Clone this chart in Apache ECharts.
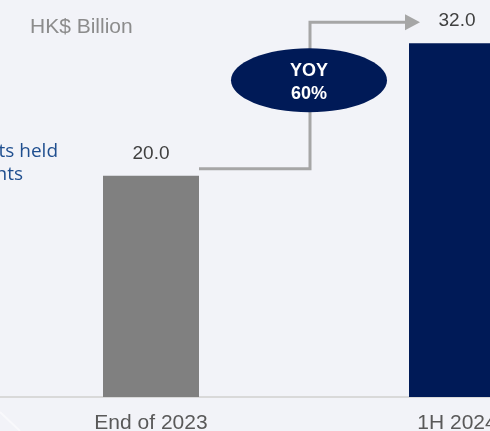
<!DOCTYPE html>
<html>
<head>
<meta charset="utf-8">
<script src="https://cdn.jsdelivr.net/npm/echarts@6/dist/echarts.min.js"></script>
<style>
  html, body { margin: 0; padding: 0; background: #f2f3f8; }
  #chart { width: 490px; height: 431px; }
</style>
</head>
<body>
<div id="chart"></div>
<script>
// Period categories and amounts (HK$ billion)
const categories = ['End of 2023', '1H 2024'];
const values = [20.0, 32.0];
// Growth callout and captions
const growthLines = ['YOY', '60%'];
const unitCaption = 'HK$ Billion';
const seriesCaption = ['Assets held', 'for clients'];

const barColors = ['#808080', '#001a57'];
const NAVY = '#001a57';
const BAR_W = 96;

const chart = echarts.init(document.getElementById('chart'));

chart.setOption({
  backgroundColor: '#f2f3f8',
  animation: false,
  // plot area runs past the right edge so the second period is partly cut off
  grid: { left: -2, right: -120, top: 10, bottom: 34, outerBoundsMode: 'none', containLabel: false },
  xAxis: {
    type: 'category',
    data: categories,
    axisLine: { show: true, lineStyle: { color: '#d9d9d9', width: 2 } },
    axisTick: { show: false },
    axisLabel: {
      margin: 16,
      color: '#595959',
      fontSize: 21,
      fontFamily: 'Liberation Sans, Arial, sans-serif'
    }
  },
  yAxis: { type: 'value', min: 0, max: 35, show: false, splitLine: { show: false } },
  series: [{
    type: 'bar',
    data: values,
    barWidth: BAR_W,
    itemStyle: { color: p => barColors[p.dataIndex] },
    label: {
      show: true,
      position: 'top',
      distance: 13,
      color: '#404040',
      fontSize: 19,
      fontFamily: 'Liberation Sans, Arial, sans-serif',
      formatter: p => p.value.toFixed(1)
    }
  }]
});

// Callout geometry derived from the bars' positions
const p0 = chart.convertToPixel({ xAxisIndex: 0, yAxisIndex: 0 }, [0, values[0]]);
const p1 = chart.convertToPixel({ xAxisIndex: 0, yAxisIndex: 0 }, [1, values[1]]);
const half = BAR_W / 2;
const yLow = p0[1] - 7;
const yHigh = p1[1] - 21;
const xStart = p0[0] + half;
const xMid = (p0[0] + p1[0]) / 2 + 6;
const xTip = p1[0] - half + 11;
const xHead = xTip - 15;

chart.setOption({
  graphic: [
    {
      type: 'text', x: 30, y: 27,
      style: {
        text: unitCaption, fill: '#8c8c8c',
        font: '21px "Liberation Sans", Arial, sans-serif',
        textAlign: 'left', textVerticalAlign: 'middle'
      }
    },
    {
      type: 'text', x: 58, y: 152,
      style: {
        text: seriesCaption[0], fill: '#1f4e8f',
        font: '19px "Open Sans", "Noto Sans", sans-serif',
        textAlign: 'right', textVerticalAlign: 'middle'
      }
    },
    {
      type: 'text', x: 23, y: 175,
      style: {
        text: seriesCaption[1], fill: '#1f4e8f',
        font: '19px "Open Sans", "Noto Sans", sans-serif',
        textAlign: 'right', textVerticalAlign: 'middle'
      }
    },
    {
      type: 'polyline',
      shape: { points: [[xStart, yLow], [xMid, yLow], [xMid, yHigh], [xHead, yHigh]] },
      style: { stroke: '#a6a6a6', lineWidth: 3, fill: null }
    },
    {
      type: 'polygon',
      shape: { points: [[xHead, yHigh - 8], [xTip, yHigh], [xHead, yHigh + 8]] },
      style: { fill: '#a6a6a6' }
    },
    {
      type: 'ellipse',
      shape: { cx: xMid - 1, cy: yHigh + 58, rx: 78, ry: 32 },
      style: { fill: NAVY },
      z: 10
    },
    {
      type: 'text', x: xMid - 1, y: yHigh + 60, z: 11,
      style: {
        text: growthLines.join('\n'), fill: '#ffffff',
        font: 'bold 18px "Liberation Sans", Arial, sans-serif',
        lineHeight: 23,
        textAlign: 'center', textVerticalAlign: 'middle'
      }
    },
    {
      type: 'line',
      shape: { x1: 0, y1: 412, x2: 20, y2: 431 },
      style: { stroke: '#ffffff', lineWidth: 2, opacity: 0.5 }
    }
  ]
});
</script>
</body>
</html>
